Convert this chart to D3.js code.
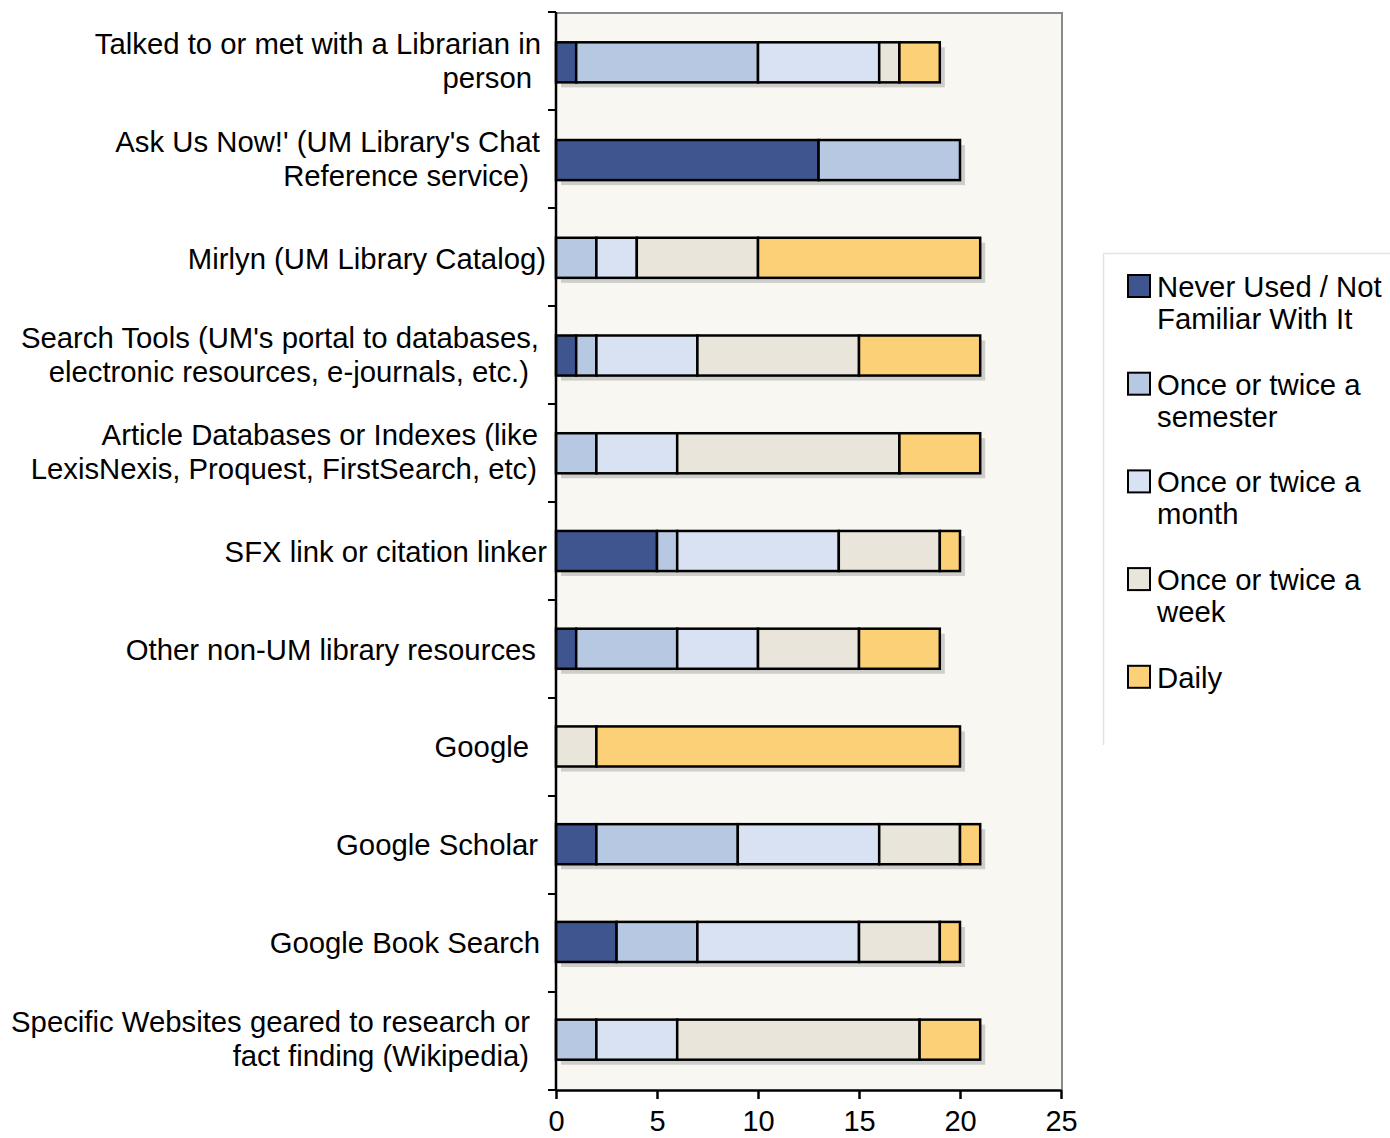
<!DOCTYPE html>
<html lang="en">
<head>
    <meta charset="UTF-8">
    <title>Library Resource Usage</title>
    <style>
        body { margin: 0; background: #fff; }
        #chart { font-family: "Liberation Sans", Arial, sans-serif; }
    </style>
    <script src="https://d3js.org/d3.v7.min.js"></script>
</head>
<body>
    <div id="chart"></div>
    <script>
const categories = [
    ["Talked to or met with a Librarian in", "person"],
    ["Ask Us Now!' (UM Library's Chat", "Reference service)"],
    ["Mirlyn (UM Library Catalog)"],
    ["Search Tools (UM's portal to databases,", "electronic resources, e-journals, etc.)"],
    ["Article Databases or Indexes (like", "LexisNexis, Proquest, FirstSearch, etc)"],
    ["SFX link or citation linker"],
    ["Other non-UM library resources"],
    ["Google"],
    ["Google Scholar"],
    ["Google Book Search"],
    ["Specific Websites geared to research or", "fact finding (Wikipedia)"]
];
const seriesNames = [
    ["Never Used / Not", "Familiar With It"],
    ["Once or twice a", "semester"],
    ["Once or twice a", "month"],
    ["Once or twice a", "week"],
    ["Daily"]
];
const neverUsed = [1, 13, 0, 1, 0, 5, 1, 0, 2, 3, 0];
const perSemester = [9, 7, 2, 1, 2, 1, 5, 0, 7, 4, 2];
const perMonth = [6, 0, 2, 5, 4, 8, 4, 0, 7, 8, 4];
const perWeek = [1, 0, 6, 8, 11, 5, 5, 2, 4, 4, 12];
const daily = [2, 0, 11, 6, 4, 1, 4, 18, 1, 1, 3];
const xTicks = [0, 5, 10, 15, 20, 25];
const colors = ["#3f5590", "#b7c8e2", "#d9e2f3", "#e9e5da", "#fbd077"];

// right edge of each label line (the original has uneven trailing space)
const labelEnds = [[541, 532], [540, 529], [546], [539, 529], [538, 537], [547], [536], [529], [538], [540], [530, 529]];

const series = [neverUsed, perSemester, perMonth, perWeek, daily];
const rows = categories.map((c, i) => {
    const r = {idx: i};
    series.forEach((s, k) => r["s" + k] = s[i]);
    return r;
});
const keys = series.map((s, k) => "s" + k);
const stacked = d3.stack().keys(keys)(rows);

const W = 1390, H = 1138;
const plot = {left: 556, right: 1062, top: 12, bottom: 1090};

const svg = d3.select("#chart").append("svg")
    .attr("width", W).attr("height", H);

const x = d3.scaleLinear().domain([0, 25]).range([plot.left, plot.right - 1]);
const y = d3.scaleBand().domain(d3.range(categories.length))
    .range([plot.top, plot.bottom]).paddingInner(0.59).paddingOuter(0.31);

// plot background
svg.append("rect")
    .attr("x", plot.left).attr("y", plot.top)
    .attr("width", plot.right - plot.left).attr("height", plot.bottom - plot.top)
    .attr("fill", "#f9f7f2");
svg.append("line")
    .attr("x1", plot.left).attr("x2", plot.right)
    .attr("y1", plot.top + 1).attr("y2", plot.top + 1)
    .attr("stroke", "#8a8a8a").attr("stroke-width", 2);
svg.append("line")
    .attr("x1", plot.right).attr("x2", plot.right)
    .attr("y1", plot.top).attr("y2", plot.bottom)
    .attr("stroke", "#8a8a8a").attr("stroke-width", 2);

// shadows
const totals = rows.map((r, i) => d3.sum(series, s => s[i]));
svg.append("g").selectAll("rect")
    .data(rows)
    .enter().append("rect")
    .attr("x", d => x(0) + 5)
    .attr("y", d => y(d.idx) + 5)
    .attr("width", d => x(totals[d.idx]) - x(0))
    .attr("height", y.bandwidth())
    .attr("fill", "#c2c2bf")
    .attr("opacity", 0.8);

// bars
stacked.forEach((layer, k) => {
    svg.append("g").selectAll("rect")
        .data(layer.filter(d => d[1] - d[0] > 0))
        .enter().append("rect")
        .attr("x", d => x(d[0]))
        .attr("y", d => y(d.data.idx))
        .attr("width", d => x(d[1]) - x(d[0]))
        .attr("height", y.bandwidth())
        .attr("fill", colors[k])
        .attr("stroke", "#000")
        .attr("stroke-width", 2.5);
});

// y axis
svg.append("line")
    .attr("x1", plot.left).attr("x2", plot.left)
    .attr("y1", plot.top).attr("y2", plot.bottom)
    .attr("stroke", "#000").attr("stroke-width", 2.5);
const step = (plot.bottom - plot.top) / categories.length;
svg.append("g").selectAll("line")
    .data(d3.range(categories.length + 1))
    .enter().append("line")
    .attr("x1", plot.left - 8).attr("x2", plot.left)
    .attr("y1", d => plot.top + d * step).attr("y2", d => plot.top + d * step)
    .attr("stroke", "#000").attr("stroke-width", 2);

const labels = svg.append("g")
    .attr("font-size", 29.3).attr("text-anchor", "end").attr("fill", "#000");
categories.forEach((lines, i) => {
    const cy = y(i) + y.bandwidth() / 2;
    const lh = 34;
    const t = labels.append("text")
        .attr("y", cy - (lines.length - 1) * (lh / 2 + 2))
        .attr("dominant-baseline", "central");
    lines.forEach((l, j) => {
        t.append("tspan")
            .attr("x", labelEnds[i][j])
            .attr("dy", j === 0 ? 0 : lh)
            .text(l);
    });
});

// x axis
const xAxis = svg.append("g")
    .attr("transform", "translate(0," + plot.bottom + ")")
    .call(d3.axisBottom(x).tickValues(xTicks).tickSize(9).tickPadding(11).tickSizeOuter(0));
xAxis.select(".domain").attr("stroke", "#000").attr("stroke-width", 2.5);
xAxis.selectAll(".tick line").attr("stroke", "#000").attr("stroke-width", 2.5);
xAxis.selectAll(".tick text")
    .attr("font-size", 29).attr("font-family", "Liberation Sans, Arial, sans-serif").attr("fill", "#000");

// legend
const legend = svg.append("g");
legend.append("path")
    .attr("d", "M1390,253.5 H1103.5 V745")
    .attr("fill", "none").attr("stroke", "#e4e4e4").attr("stroke-width", 1.5);
seriesNames.forEach((lines, k) => {
    const top = 275 + k * 97.7;
    legend.append("rect")
        .attr("x", 1128).attr("y", top)
        .attr("width", 22).attr("height", 22)
        .attr("fill", colors[k]).attr("stroke", "#000").attr("stroke-width", 2);
    const t = legend.append("text")
        .attr("font-size", 29.3).attr("fill", "#000")
        .attr("dominant-baseline", "central");
    lines.forEach((l, j) => {
        t.append("tspan")
            .attr("x", 1157)
            .attr("y", top + 11 + j * 32)
            .text(l);
    });
});
    </script>
</body>
</html>
